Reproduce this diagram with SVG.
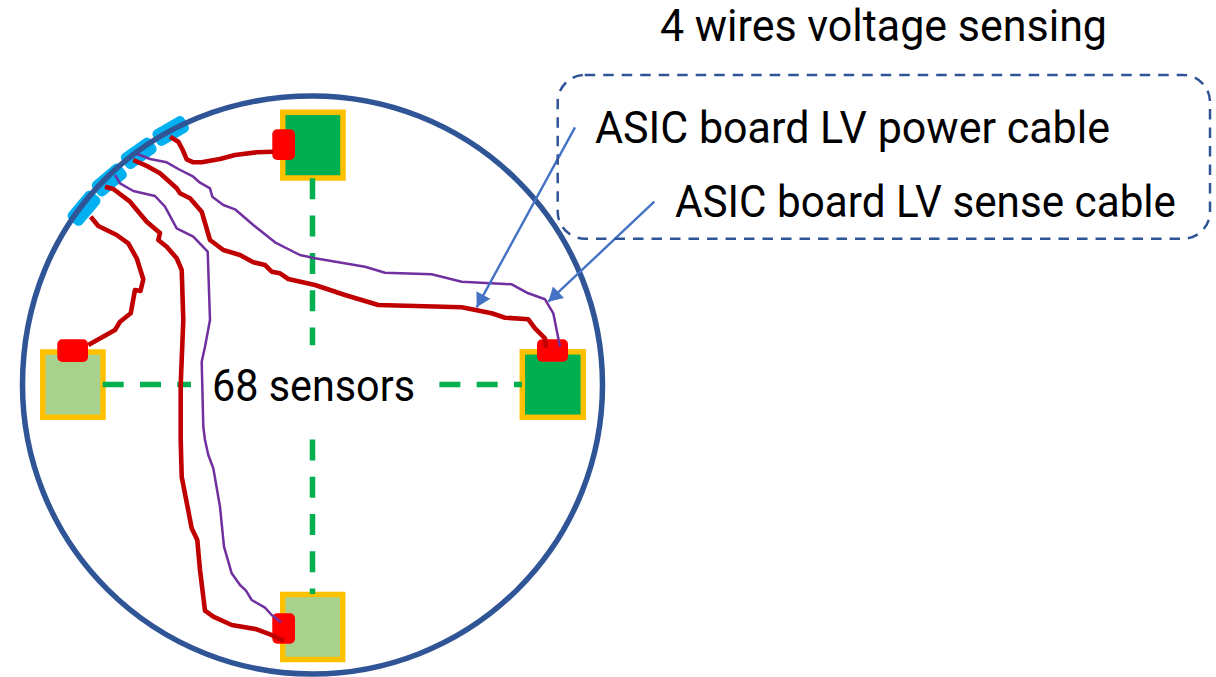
<svg xmlns="http://www.w3.org/2000/svg" width="1216" height="677" viewBox="0 0 1216 677">
<style>
.lbl{font-family:Roboto,"Open Sans","Liberation Sans",sans-serif;font-size:43.500px;fill:#000}
.sq{stroke:#FFC000;stroke-width:5.5}
.dark{fill:#00B050}.light{fill:#A9D18E}
.pad{fill:#FF0000}
.plug{fill:#00B0F0}
.dash{stroke:#00B050;stroke-width:5.5;stroke-dasharray:21 16.3;fill:none}
.pw{fill:none;stroke:#C00000;stroke-width:4.6;stroke-linejoin:round;stroke-linecap:butt}
.sn{fill:none;stroke:#7030A0;stroke-width:2.500;stroke-linejoin:round}
.ar{fill:none;stroke:#4472C4;stroke-width:2.400;marker-end:url(#head)}
</style>
<defs>
<marker id="head" markerUnits="userSpaceOnUse" markerWidth="16" markerHeight="18" refX="14" refY="8.500" orient="auto">
<path d="M0 0.500L14 8.500L0 16.500Z" fill="#4472C4"/>
</marker>
</defs>
<rect width="1216" height="677" fill="#fff"/>
<g id="plugs">
<rect class="plug" x="152.700" y="122" width="36" height="18" rx="5" transform="rotate(-30 170.700 131)"/>
<rect class="plug" x="120.700" y="144.300" width="36" height="18" rx="5" transform="rotate(-35 138.700 153.300)"/>
<rect class="plug" x="91.300" y="171" width="36" height="18" rx="5" transform="rotate(-40 109.300 180)"/>
<rect class="plug" x="66" y="199.300" width="36" height="18" rx="5" transform="rotate(-50 84 208.300)"/>
</g>
<path id="wafer" d="M22.500 385C22.500 220.300 147.200 96 312.500 96A290 289 0 0 1 602.500 385A290 289 0 0 1 312.500 674A290 289 0 0 1 22.500 385Z" fill="none" stroke="#2F5597" stroke-width="5.500"/>
<g id="sensor-top"><rect class="sq dark" x="282.700" y="112.300" width="60.300" height="65.700"/></g>
<g id="sensor-right"><rect class="sq dark" x="522.300" y="351.800" width="61" height="65.500"/></g>
<g id="sensor-left"><rect class="sq light" x="42.800" y="352" width="60.200" height="65.300"/></g>
<g id="sensor-bottom"><rect class="sq light" x="282.700" y="594.500" width="60" height="65"/></g>
<g id="sensor-row">
<path class="dash" d="M312.500 178.300V345.300"/>
<path class="dash" d="M312.500 439.400V594"/>
<path class="dash" d="M102.700 384.500H191"/>
<path class="dash" d="M439.400 384.500H522"/>
</g>
<g id="pad-top"><rect class="pad" x="272.300" y="129.300" width="22.700" height="30.700" rx="5"/></g>
<g id="pad-right"><rect class="pad" x="537" y="339.300" width="31" height="22.400" rx="5"/></g>
<g id="pad-left"><rect class="pad" x="57.300" y="339.300" width="30.700" height="22.700" rx="5"/></g>
<g id="pad-bottom"><rect class="pad" x="272.300" y="613.300" width="22.700" height="30.400" rx="5"/></g>
<g id="connectors">
<path class="pw" d="M170 136.700L178.300 141.700L182.700 150L186.700 159.300L193.300 162.300L201.700 162.300L220 159L235 155L256.700 152.300L273 151.700"/>
<path class="pw" d="M133.300 160L148.300 166.700L160 173.300L176.700 188.300L180 193.300L190 198.300L201.700 211.700L210 240L223.300 250L240 255L253.300 262.300L265 265L271.700 271.700L280 273.300L288.300 279L315 285L345 295L378.300 305L461.700 307.300L491.700 313.300L505 317.700L528.300 319.300L535 328.300L545 338.300L546 348"/>
<path class="pw" d="M105 186.700L113.300 189L130 201.700L146.700 221.700L160 233L158.300 240L166.700 246.700L176.700 258.300L181.700 270L183.300 320L180.700 385L180.700 440L181.700 476.700L191.700 528.300L197.300 540L200 570L205 610.700L213.300 616.700L231.700 625L256.700 629.300L270 634.300L284 640.700"/>
<path class="pw" d="M90.700 216.700L98.300 226L116.700 235L128.300 243.300L136.700 258.300L143.300 279.300L140.500 291L135 290L130.700 313.300L120 321.700L115 330L88.300 345"/>
<path class="sn" d="M137.300 154L150 159L166.700 162.300L178.300 169L193.300 176.700L200 182.700L210 188.300L212.300 196.700L223.300 205L235 209.300L253.300 225L275 242.300L290 250L300 255L315 258.300L365 266.700L385 272.700L431.700 274.300L461.700 281.700L511.700 284.300L528.300 293.300L545 299.300L553.300 313.300L560 346.700"/>
<path class="sn" d="M115 175L120 183.300L133.300 191L155 196L165 206.700L176.700 228.300L193.300 236.700L207.700 251.700L210 320L205 346.700L201.700 361.700L203.300 426.700L205 440L208.300 455L213.300 468.300L220 506.700L224 546.700L231.700 573.300L240 585L246 590.700L251.700 600L265 607.700L271.700 615L281 622.300"/>
<path class="ar" d="M575 127.300L476.700 307.300"/>
<path class="ar" d="M654.300 201.700L548.300 301.700"/>
</g>
<rect id="callout" x="557.700" y="75" width="652.300" height="163.700" rx="27" fill="none" stroke="#2F5597" stroke-width="2.500" stroke-dasharray="10.500 8"/>
<g id="labels">
<text class="lbl" x="660" y="41" textLength="447" lengthAdjust="spacingAndGlyphs">4 wires voltage sensing</text>
<text class="lbl" x="595" y="142.700" textLength="515" lengthAdjust="spacingAndGlyphs">ASIC board LV power cable</text>
<text class="lbl" x="675" y="216.700" textLength="501" lengthAdjust="spacingAndGlyphs">ASIC board LV sense cable</text>
<text class="lbl" x="212" y="400.700" textLength="203" lengthAdjust="spacingAndGlyphs">68 sensors</text>
</g>
</svg>
